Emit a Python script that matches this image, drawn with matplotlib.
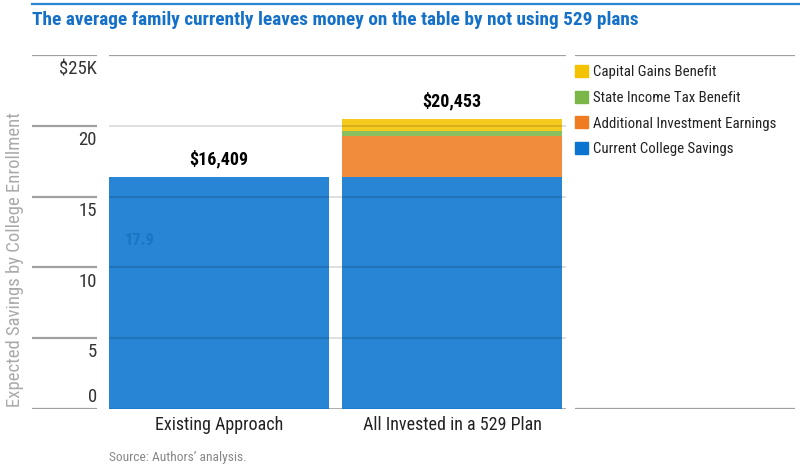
import matplotlib
matplotlib.use("Agg")
import matplotlib.pyplot as plt
from matplotlib.patches import Patch
import numpy as np

plt.rcParams['font.family'] = ['Roboto Condensed', 'Liberation Sans Narrow', 'DejaVu Sans']
plt.rcParams['font.stretch'] = 'condensed'

# data (dollars)
categories = ['Existing Approach', 'All Invested in a 529 Plan']
current_savings = [16409, 16409]
additional_earnings = [0, 2860]
state_tax_benefit = [0, 380]
capital_gains_benefit = [0, 804]
series_names = ['Current College Savings', 'Additional Investment Earnings',
                'State Income Tax Benefit', 'Capital Gains Benefit']
series_colors = ['#0a74d0', '#f07c22', '#7ab648', '#f5c200']
y_ticks = [0, 5, 10, 15, 20, 25]
y_tick_labels = ['0', '5', '10', '15', '20', '$25K']

W, H = 800, 467
fig = plt.figure(figsize=(8, 4.67), dpi=100)

def fx(px):
    return px / W

def fy(py):
    return 1 - py / H

bottom = fy(409)
height = fy(55) - bottom

# main plot area
ax = fig.add_axes([fx(109), bottom, fx(566 - 109), height])
x = np.arange(len(categories))
series = [current_savings, additional_earnings, state_tax_benefit, capital_gains_benefit]
base = np.zeros(len(categories))
handles = []
for vals, name, col in zip(series, series_names, series_colors):
    v = np.array(vals) / 1000.0
    ax.bar(x, v, bottom=base, width=0.944, color=col, alpha=0.88,
           linewidth=0, zorder=2)
    handles.append(Patch(facecolor=col, edgecolor=col, label=name))
    base = base + v

for i, tot in enumerate(base):
    ax.text(x[i], tot + 0.6, f"${tot * 1000:,.0f}", ha='center', va='bottom',
            fontsize=13, fontweight='bold', color='black', zorder=4)

# faint stray label on first bar
ax.text(-0.34, 11.9, '17.9', fontsize=12, fontweight='bold', color='#1a74c4',
        ha='center', va='center', zorder=3)

for t in y_ticks[1:-1]:
    ax.axhline(t, color='black', alpha=0.15, lw=1.2, zorder=3)
ax.axhline(25, color='#a0a0a0', lw=1.6, zorder=3)
ax.axhline(0, color='#a0a0a0', lw=1.2, zorder=1)

ax.set_xlim(-0.472, 1.489)
ax.set_ylim(0, 25)
ax.set_yticks([])
ax.set_xticks(x)
ax.set_xticklabels(categories, fontsize=13, color='#222222')
ax.tick_params(axis='x', length=0, pad=5)
for s in ax.spines.values():
    s.set_visible(False)

# y tick column
ay = fig.add_axes([fx(32), bottom, fx(97 - 32), height])
ay.set_xlim(0, 1)
ay.set_ylim(0, 25)
ay.axis('off')
for t, lab in zip(y_ticks, y_tick_labels):
    ay.axhline(t, color='#a0a0a0', lw=1.6)
    off = 0.85 if t == 0 else -1.0
    ay.text(1.0, t + off, lab, ha='right', va='center', fontsize=13.5, color='#333333')

# legend column
al = fig.add_axes([fx(575), bottom, fx(795 - 575), height])
al.set_xlim(0, 1)
al.set_ylim(0, 25)
al.axis('off')
al.axhline(25, color='#a0a0a0', lw=1.6)
al.axhline(0, color='#a0a0a0', lw=1.6)
al.legend(handles[::-1], series_names[::-1], loc='upper left',
          bbox_to_anchor=(0.0, 0.972), frameon=False, fontsize=10.7,
          handlelength=0.87, handleheight=0.87, handletextpad=0.34,
          labelspacing=0.78, labelcolor='#222222', borderaxespad=0, borderpad=0)

# title, rule, axis label, source
fig.add_artist(plt.Line2D([fx(32), 1.0], [fy(4), fy(4)], color='#2a86d4', lw=1.6))
fig.text(fx(32), fy(20), 'The average family currently leaves money on the table by not using 529 plans',
         ha='left', va='center', fontsize=13.9, fontweight='bold', color='#1570c8')
fig.text(fx(15), fy(260), 'Expected Savings by College Enrollment', rotation=90,
         ha='center', va='center', fontsize=13.5, color='#aaaaaa')
fig.text(fx(109), fy(457), 'Source: Authors\u2019 analysis.', ha='left', va='center',
         fontsize=9.7, color='#888888')

fig.savefig('out.png', dpi=100)
